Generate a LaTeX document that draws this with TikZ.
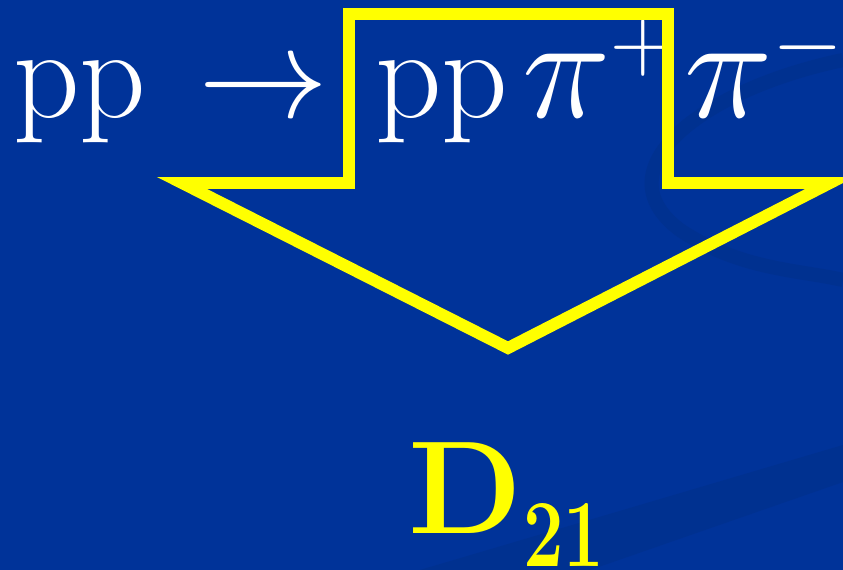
\RequirePackage{fix-cm}
\documentclass[tikz,border=0pt]{standalone}
\usepackage{graphicx}
\usepackage{xcolor}
\usepackage{tikz}
\usetikzlibrary{calc}
\definecolor{slideblue}{HTML}{003399}
\definecolor{swirlblue}{HTML}{003190}
\definecolor{arrowyellow}{HTML}{FFFF00}
\newcommand{\bigpi}{\scalebox{1.15}[1.13]{$\pi$}}

\begin{document}
\begin{tikzpicture}[
    x=0.03cm, y=-0.03cm,
    bigtext/.style={inner sep=0pt, anchor=base west, text=white, font=\fontsize{111}{111}\selectfont},
    labeltext/.style={inner sep=0pt, anchor=base west, text=arrowyellow},
    bigarrow/.style={draw=arrowyellow, line width=10.2pt, miter limit=20}
  ]

    % background and faint swirl
    \fill[slideblue] (0,0) rectangle (843,570);
    \useasboundingbox (0,0) rectangle (843,570);
    \draw[swirlblue, line width=12pt] (843,60) .. controls (700,90) and (600,170) .. (680,230) .. controls (740,270) and (800,270) .. (843,280);
    \fill[swirlblue] (420,570) -- (843,445) -- (843,482) -- (590,570) -- cycle;

    % reaction
    \node[bigtext] (beam) at (13,118) {pp};
    \node[bigtext] (react) at (198,118) {$\rightarrow$};
    \node[bigtext] (final) at (375,118) {pp};
    \node[bigtext] (pionp) at (522,118) {$\bigpi^{+}$};
    \node[bigtext] (pionm) at (684,118) {$\bigpi^{-}$};

    % yellow down arrow
    \coordinate (stemtl) at (349,14);
    \coordinate (stemtr) at (668,14);
    \coordinate (tip) at (508,348);
    \draw[bigarrow] (stemtl) -- (stemtr) -- (668,183) -- (830,183) -- (tip) -- (182,183) -- (349,183) -- cycle;

    % result
    \node[labeltext, font=\fontsize{113}{113}\selectfont\bfseries] (dlabel) at (408,533) {D};
    \node[labeltext, font=\fontsize{82}{82}\selectfont\bfseries] (dsub) at (523,566) {\scalebox{0.75}[1]{21}};
  \end{tikzpicture}
\end{document}
